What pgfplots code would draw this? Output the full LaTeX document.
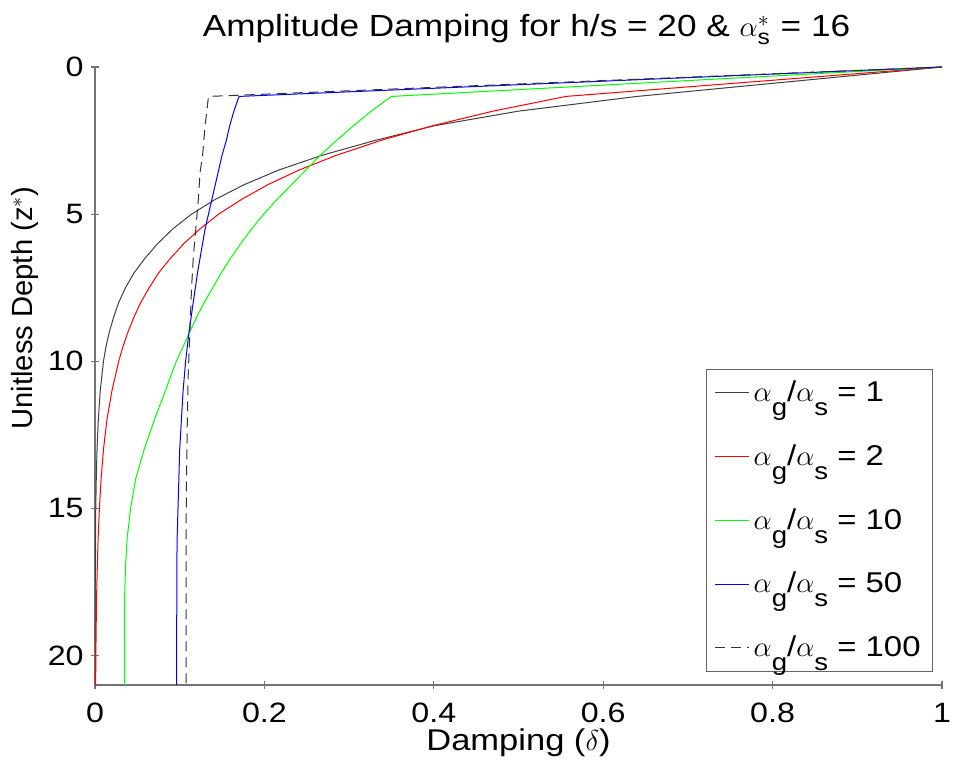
\documentclass[border=0pt]{standalone}
\usepackage{fontspec}
\setmainfont{Liberation Sans}[FakeStretch=1.15]
\newfontfamily\plainsans{Liberation Sans}
\usepackage{amsmath}
\usepackage{pgfplots}
\pgfplotsset{compat=1.18}

\newcommand\legsub[1]{\raisebox{-7pt}{\fontsize{12}{12}\selectfont #1}}
\newcommand\ratio{$\alpha$\legsub{g}/$\alpha$\legsub{s}}

\begin{document}
\begin{tikzpicture}
  \begin{axis}[
    scale only axis,
    width=423.5pt, height=309pt,
    xmin=0, xmax=1, ymin=0, ymax=21,
    y dir=reverse,
    axis x line=bottom, axis y line=left,
    axis line style={-, black!55, line width=0.6pt},
    xtick={0,0.2,...,1}, ytick={0,5,...,20},
    major tick length=4pt,
    tick style={black!55, line width=0.6pt},
    /pgf/number format/assume math mode=true,
    ticklabel style={font=\fontsize{14}{17}\selectfont},
    xticklabel style={anchor=base, yshift=-16.8pt, inner sep=0pt},
    yticklabel style={anchor=east, xshift=-3.5pt, inner sep=0pt},
    title={Amplitude Damping for h/s = 20 \& $\alpha_{\text{s}}^{*}$ = 16},
    title style={at={(axis description cs:0.5,1)}, anchor=base, yshift=9pt,
      xshift=4pt, font=\fontsize{15.3}{18}\selectfont},
    xlabel={Damping ($\delta$)},
    xlabel style={at={(axis description cs:0.5,-0.1063)}, anchor=base,
      font=\fontsize{15}{18}\selectfont},
    ylabel={Unitless Depth (z$^{*}$)},
    ylabel style={at={(axis description cs:-0.0732,0.61)}, anchor=base,
      font=\plainsans\fontsize{14.6}{18}\selectfont},
    legend style={at={(axis description cs:1,0)}, anchor=south east,
      xshift=-4.5pt, yshift=6.5pt, draw=black!60,
      font=\fontsize{14.3}{17}\selectfont, row sep=16pt,
      inner sep=4pt},
    legend cell align=left,
    every axis plot/.append style={line width=0.5pt},
  ]
    % alpha_g/alpha_s = 1
    \addplot[black!75] coordinates {
      (1,0) (0.64,1) (0.50,1.5) (0.40,2) (0.33,2.5) (0.268,3) (0.217,3.5)
      (0.176,4) (0.142,4.5) (0.114,5) (0.092,5.5) (0.074,6) (0.059,6.5)
      (0.046,7) (0.036,7.5) (0.028,8) (0.022,8.5) (0.017,9) (0.013,9.5)
      (0.010,10) (0.0062,11) (0.0039,12) (0.0024,13) (0.0015,14) (0.0009,15)
      (0.0006,16) (0.0004,17) (0.0002,18) (0.0001,19) (0.0001,21)
    };
    \addlegendentry{\ratio{} = 1}
    % = 2
    \addplot[red] coordinates {
      (1,0) (0.556,1) (0.47,1.5) (0.398,2) (0.337,2.5) (0.285,3) (0.241,3.5)
      (0.204,4) (0.173,4.5) (0.146,5) (0.124,5.5) (0.105,6) (0.089,6.5)
      (0.075,7) (0.064,7.5) (0.054,8) (0.046,8.5) (0.039,9) (0.033,9.5)
      (0.028,10) (0.020,11) (0.014,12) (0.010,13) (0.0072,14) (0.0052,15)
      (0.0037,16) (0.0027,17) (0.0019,18) (0.0014,19) (0.0010,20) (0.0008,21)
    };
    \addlegendentry{\ratio{} = 2}
    % = 10
    \addplot[green] coordinates {
      (1,0) (0.35,1) (0.326,1.5) (0.305,2) (0.285,2.5) (0.266,3) (0.249,3.5)
      (0.232,4) (0.215,4.5) (0.199,5) (0.185,5.5) (0.172,6) (0.160,6.5)
      (0.149,7) (0.139,7.5) (0.129,8) (0.120,8.5) (0.112,9) (0.104,9.5)
      (0.096,10) (0.083,11) (0.070,12) (0.058,13) (0.048,14) (0.042,15)
      (0.038,16) (0.036,17) (0.035,18) (0.035,21)
    };
    \addlegendentry{\ratio{} = 10}
    % = 50
    \addplot[blue] coordinates {
      (1,0) (0.170,1) (0.164,1.5) (0.159,2) (0.155,2.5) (0.150,3) (0.146,3.5)
      (0.142,4) (0.138,4.5) (0.134,5) (0.130,5.5) (0.127,6) (0.121,7)
      (0.116,8) (0.111,9) (0.107,10) (0.104,11) (0.102,12) (0.100,13)
      (0.099,14) (0.098,15) (0.097,16) (0.0966,17) (0.0964,21)
    };
    \addlegendentry{\ratio{} = 50}
    % = 100
    \addplot[black!80, dash pattern=on 5pt off 3pt] coordinates {
      (1,0) (0.134,1) (0.130,2) (0.127,3) (0.124,3.6) (0.122,4.5) (0.119,5.5)
      (0.116,6.5) (0.114,7.5) (0.112,9) (0.110,10.5) (0.109,12) (0.108,14)
      (0.1075,16) (0.1075,21)
    };
    \addlegendentry{\ratio{} = 100}
  \end{axis}
  \pgfresetboundingbox
  \path (-47.5pt,-39.5pt) rectangle (430pt,342.5pt);
\end{tikzpicture}
\end{document}
